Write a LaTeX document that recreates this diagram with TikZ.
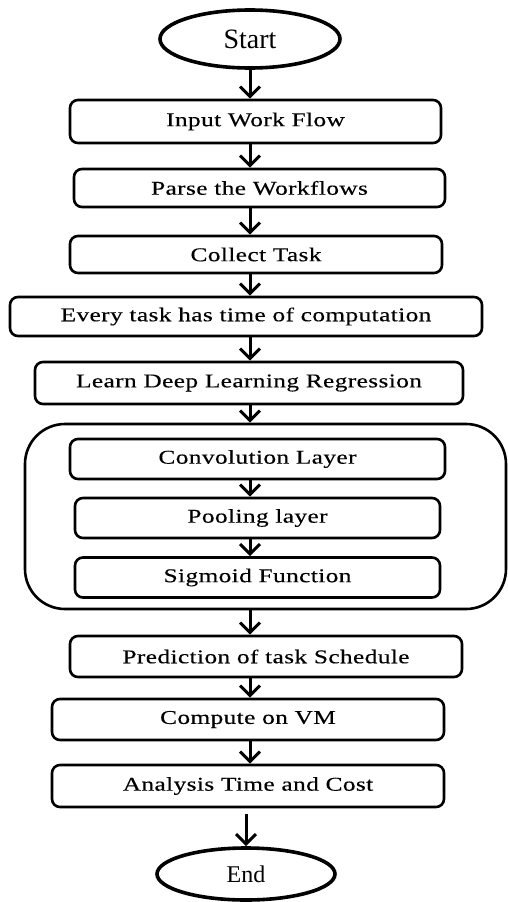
\documentclass[tikz,border=0pt]{standalone}
\usepackage{fontspec}
\setmainfont{Liberation Serif}
\newfontfamily\boxfont[FakeStretch=1.3,LetterSpace=2,FakeBold=0.3]{Liberation Serif}
\usetikzlibrary{shapes.geometric,arrows.meta}

\begin{document}
\begin{tikzpicture}[x=1pt,y=-1pt,
  stepbox/.style={draw, line width=2.6pt, rounded corners=8pt, inner sep=0pt,
    font=\boxfont\fontsize{19.5}{21}\selectfont},
  terminal/.style={draw, ellipse, line width=3.6pt, inner sep=0pt},
  groupbox/.style={draw, line width=2.6pt, rounded corners=40pt, inner sep=0pt},
  arr/.style={line width=3pt,
    -{Straight Barb[length=10pt,width=20pt,line width=3pt]}}]
\useasboundingbox (0,0) rectangle (508,902);

% terminals
\node[terminal, minimum width=180pt, minimum height=58pt,
      font=\fontsize{28}{30}\selectfont] (start) at (250,39) {Start};
\node[terminal, minimum width=178pt, minimum height=52pt,
      font=\fontsize{24}{26}\selectfont] (end) at (246,874) {End};

% process steps
\node[stepbox, minimum width=371pt, minimum height=43pt] (input)   at (255.5,121.5) {Input Work Flow};
\node[stepbox, minimum width=371pt, minimum height=38pt] (parse)   at (259.5,188)   {Parse the Workflows};
\node[stepbox, minimum width=372pt, minimum height=37pt] (collect) at (256,254.5)   {Collect Task};
\node[stepbox, minimum width=472pt, minimum height=39pt] (every)   at (246,316.5)   {Every task has time of computation};
\node[stepbox, minimum width=428pt, minimum height=42pt] (learn)   at (249,383)     {Learn Deep Learning Regression};

% deep learning block
\node[groupbox, minimum width=481pt, minimum height=185pt] (group) at (265.5,516.5) {};
\node[stepbox, minimum width=375pt, minimum height=40pt] (conv) at (257.5,459)   {Convolution Layer};
\node[stepbox, minimum width=365pt, minimum height=40pt] (pool) at (257.5,518)   {Pooling layer};
\node[stepbox, minimum width=365pt, minimum height=40pt] (sig)  at (257.5,577.5) {Sigmoid Function};

\node[stepbox, minimum width=392pt, minimum height=41pt] (pred)     at (266,656.5) {Prediction of task Schedule};
\node[stepbox, minimum width=392pt, minimum height=41pt] (compute)  at (248,719.5) {Compute on VM};
\node[stepbox, minimum width=392pt, minimum height=42pt] (analysis) at (248,786)   {Analysis Time and Cost};

% connectors
\draw[arr] (start.south) -- (input.north -| start.south);
\draw[arr] (input.south -| start) -- (parse.north -| start);
\draw[arr] (parse.south -| start) -- (collect.north -| start);
\draw[arr] (collect.south -| start) -- (every.north -| start);
\draw[arr] (every.south -| start) -- (learn.north -| start);
\draw[arr] (learn.south -| start) -- (group.north -| start);
\draw[arr] (conv.south -| start) -- (pool.north -| start);
\draw[arr] (pool.south -| start) -- (sig.north -| start);
\draw[arr] (group.south -| start) -- (pred.north -| start);
\draw[arr] (pred.south -| start) -- (compute.north -| start);
\draw[arr] (compute.south -| start) -- (analysis.north -| start);
\draw[arr, shorten <=6pt] (analysis.south -| end.north) -- (end.north);
\end{tikzpicture}
\end{document}
